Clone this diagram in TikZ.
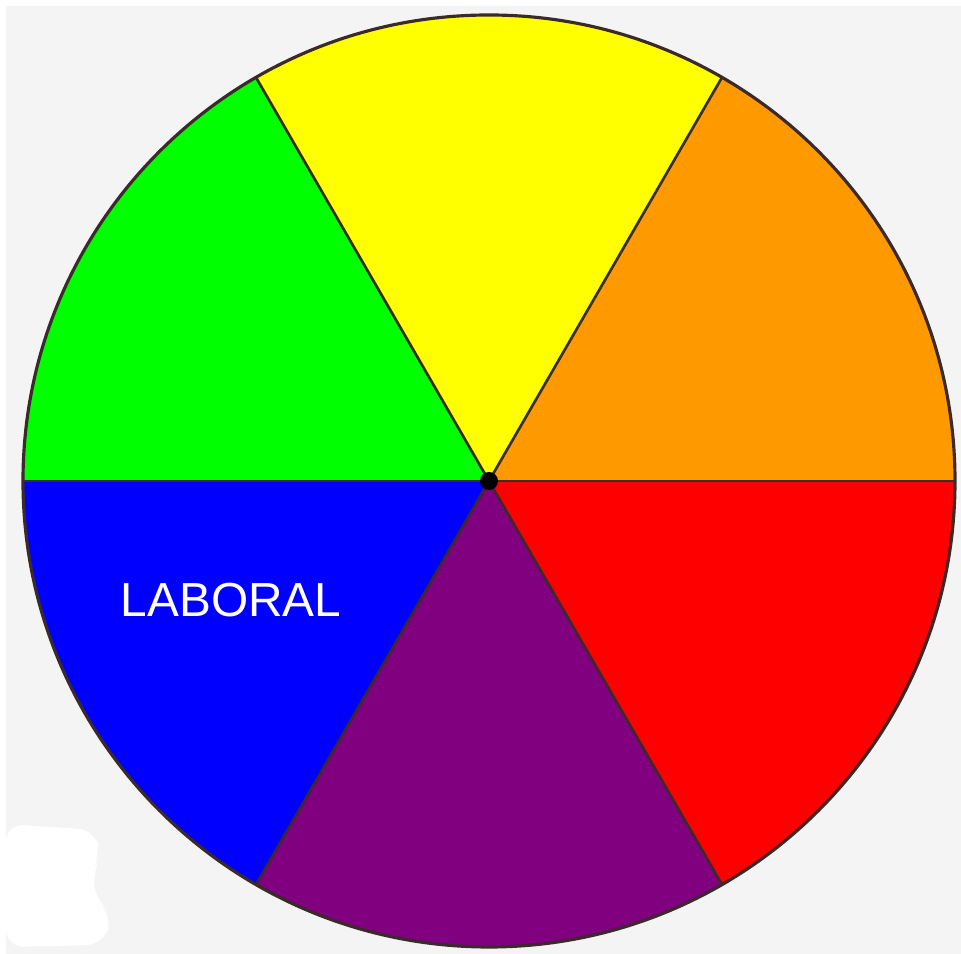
\documentclass[tikz,border=0pt]{standalone}
\usepackage{fontspec}
\setsansfont{Liberation Sans}
\usetikzlibrary{positioning, calc}
\definecolor{bgcol}{HTML}{F4F4F4}
\definecolor{greencol}{HTML}{00FF00}
\definecolor{yellowcol}{HTML}{FFFF00}
\definecolor{orangecol}{HTML}{FF9900}
\definecolor{redcol}{HTML}{FF0000}
\definecolor{purplecol}{HTML}{800080}
\definecolor{bluecol}{HTML}{0000FF}
\definecolor{edgecol}{HTML}{3A2A2A}

\begin{document}
\begin{tikzpicture}[
  sector/.style={draw=edgecol, line width=0.75pt, line join=round},
  rim/.style={draw=edgecol, line width=0.9pt},
  lbl/.style={font=\sffamily\fontsize{13.6}{16}\selectfont, text=white, inner sep=0pt},
]

% ---------------------------------------------------------------
% Geometry: 1px of the reference = 0.01cm, y pointing down
% Wheel centre at (4.89,-4.81), radius 4.66
% ---------------------------------------------------------------
\def\R{4.66}
\useasboundingbox (0,0) rectangle (9.61,-9.54);
\fill[white] (0,0) rectangle (9.61,-9.54);
\fill[bgcol] (0.06,-0.06) rectangle (9.61,-9.54);

% white patch, bottom left
\fill[white, rounded corners=5pt] (0.06,-8.24) -- (0.96,-8.30) -- (1.00,-8.55)
  -- (0.93,-8.72) -- (0.95,-9.00) -- (1.13,-9.15) -- (1.03,-9.45)
  -- (0.06,-9.47) -- cycle;

\coordinate (hub) at (4.89,-4.81);

% ===== Six coloured sectors =====
\foreach \a/\c in {0/orangecol, 60/yellowcol, 120/greencol,
                   180/bluecol, 240/purplecol, 300/redcol}{
  \fill[\c] (hub) -- ++(\a:\R) arc[start angle=\a, end angle=\a+60, radius=\R] -- cycle;
}
\foreach \a in {0,60,...,300}{
  \draw[sector] (hub) -- ++(\a:\R);
}
\draw[rim] (hub) circle[radius=\R];

% centre dot
\fill[black] (hub) circle[radius=0.09];

% ===== Label =====
\node[lbl] (laboral) at (2.31,-6.00) {LABORAL};

\end{tikzpicture}
\end{document}
